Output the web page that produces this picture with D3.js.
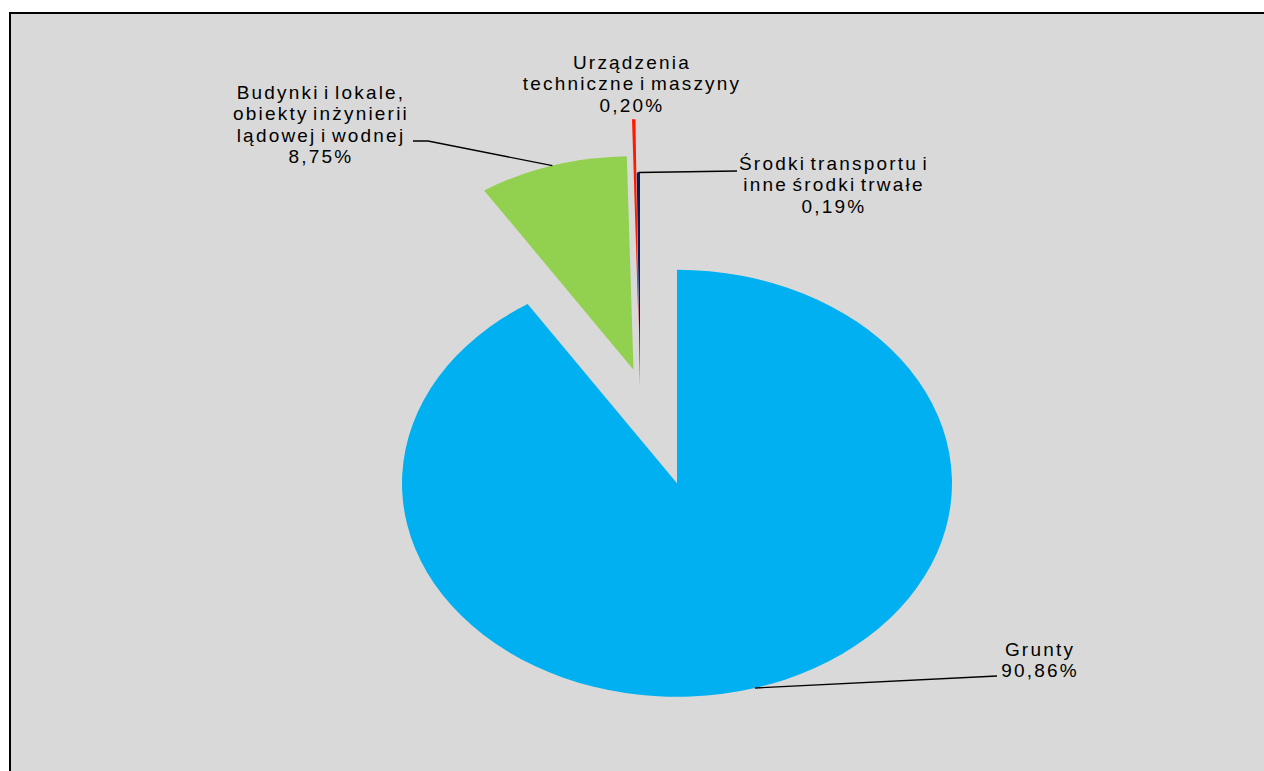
<!DOCTYPE html>
<html>
<head>
<meta charset="utf-8">
<script src="https://cdn.jsdelivr.net/npm/d3@7"></script>
<style>
  html, body { margin: 0; padding: 0; background: #ffffff; overflow: hidden; }
  svg { display: block; }
  text { font-family: "Liberation Sans", Arial, sans-serif; font-size: 19px; fill: #000; letter-spacing: 2.2px; word-spacing: -3px; }
</style>
</head>
<body>
<svg id="chart" width="1264" height="771"></svg>
<script>
// ---- data ----
const categories = [
  "Grunty",
  "Budynki i lokale, obiekty inżynierii lądowej i wodnej",
  "Urządzenia techniczne i maszyny",
  "Środki transportu i inne środki trwałe"
];
const values = [90.86, 8.75, 0.20, 0.19];
const labelLines = [
  ["Grunty"],
  ["Budynki i lokale,", "obiekty inżynierii", "lądowej i wodnej"],
  ["Urządzenia", "techniczne i maszyny"],
  ["Środki transportu i", "inne środki trwałe"]
];

// ---- styling / layout ----
const colors = ["#00b0f0", "#92d050", "url(#redGrad)", "#002060"];
const explode = [0.475, 0.08, 0.25, 0.0];
const cx = 640, cy = 386, rx = 275, ry = 213.5;
const labelPos = [
  { x: 1040, y: 656, lead: [[997, 676]] },
  { x: 321, y: 99, lead: [[428, 141], [413, 141]] },
  { x: 632, y: 69, lead: null },
  { x: 834, y: 170, lead: [[737, 171]] }
];
const lineH = 21.3;

const svg = d3.select("#chart");
const defs = svg.append("defs");
const g = defs.append("linearGradient").attr("id", "redGrad")
  .attr("gradientUnits", "userSpaceOnUse")
  .attr("x1", 0).attr("y1", 119).attr("x2", 0).attr("y2", 332);
g.append("stop").attr("offset", 0).attr("stop-color", "#ff1a00");
g.append("stop").attr("offset", 0.3).attr("stop-color", "#f0602a");
g.append("stop").attr("offset", 0.65).attr("stop-color", "#b88848");
g.append("stop").attr("offset", 1).attr("stop-color", "#90b070");

// frame
svg.append("rect")
  .attr("x", 10).attr("y", 13).attr("width", 1300).attr("height", 800)
  .attr("fill", "#d9d9d9").attr("stroke", "#000").attr("stroke-width", 2);

const pie = d3.pie().sort(null).value(d => d)(values);
const arc = d3.arc().innerRadius(0).outerRadius(rx);
const sy = ry / rx;

const fmt = v => d3.format(".2f")(v).replace(".", ",") + "%";

pie.forEach((p, i) => {
  const mid = (p.startAngle + p.endAngle) / 2;
  const ox = cx + explode[i] * Math.sin(mid) * rx;
  const oy = cy - explode[i] * Math.cos(mid) * ry;
  svg.append("path")
    .attr("d", arc(p))
    .attr("transform", `translate(${ox},${oy}) scale(1,${sy})`)
    .attr("fill", colors[i]);
  p.anchor = [ox + Math.sin(mid) * rx, oy - Math.cos(mid) * ry];
});

// leader lines
pie.forEach((p, i) => {
  const L = labelPos[i];
  if (!L.lead) return;
  const pts = [p.anchor].concat(L.lead);
  svg.append("path")
    .attr("d", d3.line()(pts))
    .attr("fill", "none").attr("stroke", "#000").attr("stroke-width", 1.3);
});

// labels
pie.forEach((p, i) => {
  const L = labelPos[i];
  const lines = labelLines[i].concat([fmt(values[i])]);
  const t = svg.append("text").attr("text-anchor", "middle");
  lines.forEach((ln, k) => {
    t.append("tspan").attr("x", L.x).attr("y", L.y + k * lineH).text(ln);
  });
});
</script>
</body>
</html>
